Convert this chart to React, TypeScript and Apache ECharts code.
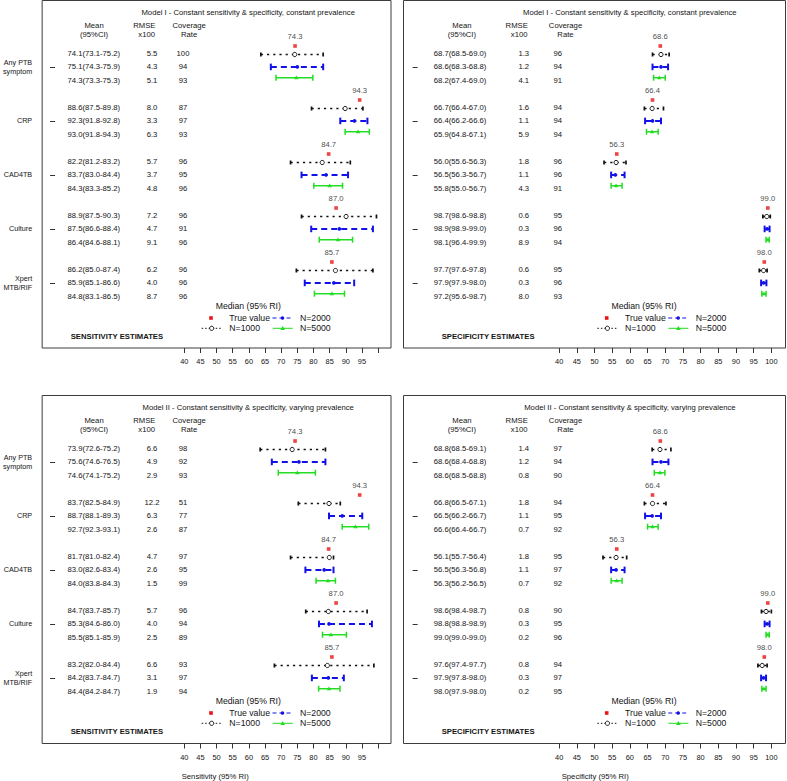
import React, { useEffect, useRef } from "react";
import * as echarts from "echarts";

const FONT = "'Liberation Sans', Arial, Helvetica, sans-serif";
const TEXT = "#141414";
const RED = "#ec1313";
const BLUE = "#1212e8";
const GREEN = "#22dd22";
const BLACK = "#111111";

const categories = ["Any PTB\nsymptom", "CRP", "CAD4TB", "Culture", "Xpert\nMTB/RIF"];
const sampleSizes = ["N=1000", "N=2000", "N=5000"];
const xTicks = [40, 45, 50, 55, 60, 65, 70, 75, 80, 85, 90, 95, 100];
const sensTickLabels = [40, 45, 50, 55, 60, 65, 70, 75, 80, 85, 90, 95];
const specTickLabels = [40, 45, 50, 55, 60, 65, 70, 75, 80, 85, 90, 95, 100];

const trueSensitivity = [74.3, 94.3, 84.7, 87.0, 85.7];
const trueSpecificity = [68.6, 66.4, 56.3, 99.0, 98.0];

// Median and 95% RI: [low, median, high] per test
const m1SensN1000 = [[63.7, 74.2, 83.0], [79.4, 89.8, 95.3], [72.9, 82.7, 91.4], [76.3, 90.1, 99.5], [74.7, 86.8, 98.4]];
const m1SensN2000 = [[66.8, 75.0, 83.0], [88.3, 92.7, 96.7], [76.3, 83.9, 90.7], [79.3, 88.0, 98.4], [77.3, 86.3, 92.6]];
const m1SensN5000 = [[68.4, 74.7, 79.8], [89.8, 93.8, 97.3], [80.1, 85.0, 89.0], [81.8, 87.6, 92.1], [80.3, 85.7, 89.6]];

const m1SpecN1000 = [[66.4, 68.8, 71.1], [64.1, 66.3, 69.5], [52.7, 56.1, 58.9], [97.6, 98.7, 99.7], [96.6, 97.8, 98.8]];
const m1SpecN2000 = [[66.4, 68.8, 70.8], [64.3, 66.4, 68.8], [54.7, 55.9, 58.5], [98.1, 98.8, 99.5], [97.1, 97.8, 98.6]];
const m1SpecN5000 = [[66.7, 68.3, 70.0], [64.7, 66.3, 68.0], [54.7, 56.1, 57.8], [98.5, 99.0, 99.4], [97.3, 97.9, 98.5]];

const m2SensN1000 = [[63.5, 73.4, 83.7], [75.3, 84.8, 88.3], [72.9, 84.9, 86.2], [77.6, 84.6, 96.6], [67.9, 84.3, 98.7]];
const m2SensN2000 = [[67.1, 75.5, 83.7], [84.8, 88.9, 95.1], [77.5, 83.3, 86.2], [81.7, 84.8, 98.1], [79.5, 84.6, 89.4]];
const m2SensN5000 = [[69.1, 75.0, 80.6], [88.9, 93.0, 97.1], [80.8, 84.5, 86.8], [82.8, 85.4, 90.2], [81.6, 84.8, 88.2]];

const m2SpecN1000 = [[66.3, 68.5, 71.6], [64.1, 66.4, 70.2], [52.4, 56.1, 59.1], [97.2, 98.5, 100.0], [96.2, 97.4, 98.8]];
const m2SpecN2000 = [[66.4, 68.8, 70.9], [64.3, 66.3, 68.8], [54.7, 56.1, 58.5], [98.1, 98.8, 99.5], [97.1, 97.8, 98.5]];
const m2SpecN5000 = [[66.9, 68.5, 69.9], [65.0, 66.4, 68.0], [54.7, 56.3, 57.8], [98.5, 99.0, 99.4], [97.3, 97.9, 98.5]];

// Tables: rows N=1000, N=2000, N=5000 per test
const m1SensMean = [
  ["74.1(73.1-75.2)", "75.1(74.3-75.9)", "74.3(73.3-75.3)"],
  ["88.6(87.5-89.8)", "92.3(91.8-92.8)", "93.0(91.8-94.3)"],
  ["82.2(81.2-83.2)", "83.7(83.0-84.4)", "84.3(83.3-85.2)"],
  ["88.9(87.5-90.3)", "87.5(86.6-88.4)", "86.4(84.6-88.1)"],
  ["86.2(85.0-87.4)", "85.9(85.1-86.6)", "84.8(83.1-86.5)"],
];
const m1SensRmse = [[5.5, 4.3, 5.1], [8.0, 3.3, 6.3], [5.7, 3.7, 4.8], [7.2, 4.7, 9.1], [6.2, 4.0, 8.7]];
const m1SensCoverage = [[100, 94, 93], [87, 97, 93], [96, 95, 96], [96, 91, 96], [96, 96, 96]];

const m1SpecMean = [
  ["68.7(68.5-69.0)", "68.6(68.3-68.8)", "68.2(67.4-69.0)"],
  ["66.7(66.4-67.0)", "66.4(66.2-66.6)", "65.9(64.8-67.1)"],
  ["56.0(55.6-56.3)", "56.5(56.3-56.7)", "55.8(55.0-56.7)"],
  ["98.7(98.6-98.8)", "98.9(98.9-99.0)", "98.1(96.4-99.9)"],
  ["97.7(97.6-97.8)", "97.9(97.9-98.0)", "97.2(95.6-98.7)"],
];
const m1SpecRmse = [[1.3, 1.2, 4.1], [1.6, 1.1, 5.9], [1.8, 1.1, 4.3], [0.6, 0.3, 8.9], [0.6, 0.3, 8.0]];
const m1SpecCoverage = [[96, 94, 91], [94, 94, 94], [96, 96, 91], [95, 96, 94], [95, 96, 93]];

const m2SensMean = [
  ["73.9(72.6-75.2)", "75.6(74.6-76.5)", "74.6(74.1-75.2)"],
  ["83.7(82.5-84.9)", "88.7(88.1-89.3)", "92.7(92.3-93.1)"],
  ["81.7(81.0-82.4)", "83.0(82.6-83.4)", "84.0(83.8-84.3)"],
  ["84.7(83.7-85.7)", "85.3(84.6-86.0)", "85.5(85.1-85.9)"],
  ["83.2(82.0-84.4)", "84.2(83.7-84.7)", "84.4(84.2-84.7)"],
];
const m2SensRmse = [[6.6, 4.9, 2.9], [12.2, 6.3, 2.6], [4.7, 2.6, 1.5], [5.7, 4.0, 2.5], [6.6, 3.1, 1.9]];
const m2SensCoverage = [[98, 92, 93], [51, 77, 87], [97, 95, 99], [96, 94, 89], [93, 97, 94]];

const m2SpecMean = [
  ["68.8(68.5-69.1)", "68.6(68.4-68.8)", "68.6(68.5-68.8)"],
  ["66.8(66.5-67.1)", "66.5(66.2-66.7)", "66.6(66.4-66.7)"],
  ["56.1(55.7-56.4)", "56.5(56.3-56.8)", "56.3(56.2-56.5)"],
  ["98.6(98.4-98.7)", "98.8(98.8-98.9)", "99.0(99.0-99.0)"],
  ["97.6(97.4-97.7)", "97.9(97.8-98.0)", "98.0(97.9-98.0)"],
];
const m2SpecRmse = [[1.4, 1.2, 0.8], [1.8, 1.1, 0.7], [1.8, 1.1, 0.7], [0.8, 0.3, 0.2], [0.8, 0.3, 0.2]];
const m2SpecCoverage = [[97, 94, 90], [94, 95, 92], [95, 97, 92], [90, 95, 96], [94, 97, 95]];

const titleModel1 = "Model I - Constant sensitivity & specificity, constant prevalence";
const titleModel2 = "Model II - Constant sensitivity & specificity, varying prevalence";

// layout
const UNIT = 13.5;
const Y_MIN = 0.08;
const X_MIN = -4;
const X_MAX = 104;
const groupCenters = [5, 9, 13, 17, 21];
const barOffsets = [-0.92, 0, 0.8];
const truthOffset = -1.55;
const MEAN_X = 12;
const RMSE_X = 30;
const COV_X = 39.6;

const barStyles = [
  { color: BLACK, dash: [2.2, 4] as number[] | null, width: 1.7, cap: 2, marker: "open" },
  { color: BLUE, dash: [6, 4] as number[] | null, width: 2, cap: 3.3, marker: "dot" },
  { color: GREEN, dash: null as number[] | null, width: 1.5, cap: 3, marker: "tri" },
];

const panels = [
  {
    left: 40.5, top: 0.5, width: 350.5, height: 347.5, title: titleModel1, estimates: "SENSITIVITY ESTIMATES",
    estX: 70.7, legendDx: 0, legendDy: 0, truth: trueSensitivity, bars: [m1SensN1000, m1SensN2000, m1SensN5000],
    mean: m1SensMean, rmse: m1SensRmse, cov: m1SensCoverage, tickLabels: sensTickLabels, showCats: true, axisName: "", axisNameX: 0,
  },
  {
    left: 403.5, top: 0.5, width: 382, height: 347.5, title: titleModel1, estimates: "SPECIFICITY ESTIMATES",
    estX: 441.7, legendDx: 395.7, legendDy: 0, truth: trueSpecificity, bars: [m1SpecN1000, m1SpecN2000, m1SpecN5000],
    mean: m1SpecMean, rmse: m1SpecRmse, cov: m1SpecCoverage, tickLabels: specTickLabels, showCats: false, axisName: "", axisNameX: 0,
  },
  {
    left: 40.5, top: 395.5, width: 350.5, height: 348, title: titleModel2, estimates: "SENSITIVITY ESTIMATES",
    estX: 70.7, legendDx: 0, legendDy: 395, truth: trueSensitivity, bars: [m2SensN1000, m2SensN2000, m2SensN5000],
    mean: m2SensMean, rmse: m2SensRmse, cov: m2SensCoverage, tickLabels: sensTickLabels, showCats: true,
    axisName: "Sensitivity (95% RI)", axisNameX: 181.7,
  },
  {
    left: 403.5, top: 395.5, width: 382, height: 348, title: titleModel2, estimates: "SPECIFICITY ESTIMATES",
    estX: 441.7, legendDx: 395.7, legendDy: 395, truth: trueSpecificity, bars: [m2SpecN1000, m2SpecN2000, m2SpecN5000],
    mean: m2SpecMean, rmse: m2SpecRmse, cov: m2SpecCoverage, tickLabels: specTickLabels, showCats: false,
    axisName: "Specificity (95% RI)", axisNameX: 561.7,
  },
];

function txt(x: number, y: number, text: string, size: number, align: string, weight: string = "normal") {
  return {
    type: "text",
    x,
    y,
    silent: true,
    style: {
      text,
      fill: TEXT,
      fontSize: size,
      fontFamily: FONT,
      fontWeight: weight,
      align,
      textAlign: align,
      verticalAlign: "middle",
      textVerticalAlign: "middle",
    },
  };
}

function markerEl(kind: string, x: number, y: number, color: string, scale = 1) {
  if (kind === "open") {
    return { type: "circle", shape: { cx: x, cy: y, r: 2.1 * scale }, style: { fill: "#fff", stroke: color, lineWidth: 1 } };
  }
  if (kind === "dot") {
    return { type: "circle", shape: { cx: x, cy: y, r: 1.8 * scale }, style: { fill: color, stroke: null } };
  }
  const s = 2.3 * scale;
  return {
    type: "polygon",
    shape: { points: [[x, y - s], [x - s, y + s * 0.7], [x + s, y + s * 0.7]] },
    style: { fill: color, stroke: null },
  };
}

function makeBarRenderer(k: number) {
  const st = barStyles[k];
  return (params: any, api: any) => {
    const y = api.value(3);
    const lo = api.coord([api.value(0), y]);
    const md = api.coord([api.value(1), y]);
    const hi = api.coord([api.value(2), y]);
    const ls: any = { stroke: st.color, lineWidth: st.width, fill: null };
    if (st.dash) ls.lineDash = st.dash;
    const capStyle = { stroke: st.color, lineWidth: st.width, fill: null };
    return {
      type: "group",
      children: [
        { type: "line", shape: { x1: lo[0], y1: lo[1], x2: hi[0], y2: hi[1] }, style: ls },
        { type: "line", shape: { x1: lo[0], y1: lo[1] - st.cap, x2: lo[0], y2: lo[1] + st.cap }, style: capStyle },
        { type: "line", shape: { x1: hi[0], y1: hi[1] - st.cap, x2: hi[0], y2: hi[1] + st.cap }, style: capStyle },
        markerEl(st.marker, md[0], md[1], st.color),
      ],
    };
  };
}

function makeTableRenderer(p: any) {
  return (params: any, api: any) => {
    const y = api.value(1);
    const g = api.value(2);
    const r = api.value(3);
    const pm = api.coord([MEAN_X, y]);
    const pr = api.coord([RMSE_X, y]);
    const pc = api.coord([COV_X, y]);
    return {
      type: "group",
      children: [
        txt(pm[0], pm[1], p.mean[g][r], 7.7, "center"),
        txt(pr[0], pr[1], p.rmse[g][r].toFixed(1), 7.7, "center"),
        txt(pc[0], pc[1], String(p.cov[g][r]), 7.7, "center"),
      ],
    };
  };
}

function legendElements(dx: number, dy: number) {
  const r1 = 318 + dy;
  const r2 = 328.3 + dy;
  return [
    txt(248.3 + dx, 306 + dy, "Median (95% RI)", 8.7, "center"),
    { type: "rect", shape: { x: 211 + dx - 1.8, y: r1 - 1.8, width: 3.6, height: 3.6 }, style: { fill: RED } },
    txt(229.3 + dx, r1, "True value", 8.7, "left"),
    { type: "line", shape: { x1: 272.5 + dx, y1: r1, x2: 292.5 + dx, y2: r1 }, style: { stroke: BLUE, lineWidth: 1, lineDash: [4, 3] } },
    markerEl("dot", 282.5 + dx, r1, BLUE),
    txt(300 + dx, r1, "N=2000", 8.7, "left"),
    { type: "line", shape: { x1: 201.7 + dx, y1: r2, x2: 221.7 + dx, y2: r2 }, style: { stroke: BLACK, lineWidth: 1, lineDash: [1.5, 2] } },
    markerEl("open", 211.7 + dx, r2, BLACK),
    txt(229.3 + dx, r2, "N=1000", 8.7, "left"),
    { type: "line", shape: { x1: 272.7 + dx, y1: r2, x2: 292.7 + dx, y2: r2 }, style: { stroke: GREEN, lineWidth: 1 } },
    markerEl("tri", 282.7 + dx, r2, GREEN),
    txt(300 + dx, r2, "N=5000", 8.7, "left"),
  ];
}

function buildOption() {
  const grid: any[] = [];
  const xAxis: any[] = [];
  const yAxis: any[] = [];
  const series: any[] = [];
  const graphic: any[] = [];

  panels.forEach((p, i) => {
    const dataX = (v: number) => p.left + ((v - X_MIN) / (X_MAX - X_MIN)) * p.width;
    grid.push({
      left: p.left, top: p.top, width: p.width, height: p.height,
      show: true, borderColor: "#3c3c3c", borderWidth: 1, backgroundColor: "rgba(0,0,0,0)", containLabel: false,
    });
    xAxis.push({
      gridIndex: i, type: "value", min: X_MIN, max: X_MAX, position: "bottom",
      axisLine: { show: false },
      axisTick: { show: true, customValues: xTicks, length: 5, inside: false, lineStyle: { color: "#333", width: 1 } },
      axisLabel: { show: true, customValues: p.tickLabels, fontSize: 7.4, color: TEXT, margin: 10, fontFamily: FONT },
      splitLine: { show: false },
    });
    yAxis.push({
      gridIndex: i, type: "value", min: Y_MIN, max: Y_MIN + p.height / UNIT, inverse: true,
      axisLine: { show: false },
      splitLine: { show: false },
      axisTick: { show: true, customValues: groupCenters, length: 5, inside: false, lineStyle: { color: "#333", width: 1 } },
      axisLabel: {
        show: p.showCats, customValues: groupCenters, fontSize: 7.2, color: TEXT, margin: 10, lineHeight: 9.4,
        fontFamily: FONT, align: "right",
        formatter: (v: number) => categories[Math.round((v - 5) / 4)] ?? "",
      },
    });

    p.bars.forEach((set, k) => {
      series.push({
        type: "custom",
        name: sampleSizes[k],
        xAxisIndex: i,
        yAxisIndex: i,
        silent: true,
        clip: false,
        encode: { x: [0, 1, 2], y: 3 },
        data: set.map((b, g) => [b[0], b[1], b[2], groupCenters[g] + barOffsets[k]]),
        renderItem: makeBarRenderer(k),
      });
    });

    series.push({
      type: "scatter",
      name: "True value",
      xAxisIndex: i,
      yAxisIndex: i,
      silent: true,
      symbol: "rect",
      symbolSize: 3.6,
      itemStyle: { color: RED },
      data: p.truth.map((v, g) => [v, groupCenters[g] + truthOffset]),
      label: {
        show: true, position: "top", distance: 3.2, fontSize: 7.7, color: TEXT, fontFamily: FONT,
        formatter: (pp: any) => Number(pp.value[0]).toFixed(1),
      },
    });

    const rows: number[][] = [];
    groupCenters.forEach((c, g) => {
      [0, 1, 2].forEach((r) => rows.push([MEAN_X, c - 1 + r, g, r]));
    });
    series.push({
      type: "custom",
      name: "table" + i,
      xAxisIndex: i,
      yAxisIndex: i,
      silent: true,
      clip: false,
      encode: { x: 0, y: 1 },
      data: rows,
      renderItem: makeTableRenderer(p),
    });

    // titles and headers
    graphic.push(txt(dataX(60), p.top + 11.5, p.title, 7.7, "center"));
    graphic.push(txt(dataX(12.5), p.top + 24.5, "Mean", 7.7, "center"));
    graphic.push(txt(dataX(12.5), p.top + 33.5, "(95%CI)", 7.7, "center"));
    graphic.push(txt(dataX(28), p.top + 24.5, "RMSE", 7.7, "center"));
    graphic.push(txt(dataX(28.7), p.top + 33.5, "x100", 7.7, "center"));
    graphic.push(txt(dataX(41.8), p.top + 24.5, "Coverage", 7.7, "center"));
    graphic.push(txt(dataX(41.8), p.top + 33.5, "Rate", 7.7, "center"));
    legendElements(p.legendDx, p.legendDy).forEach((el) => graphic.push(el));
    graphic.push(txt(p.estX, 336 + p.legendDy, p.estimates, 7.7, "left", "bold"));
    if (p.axisName) graphic.push(txt(p.axisNameX, 776.7, p.axisName, 7.7, "left"));
  });

  return {
    animation: false,
    backgroundColor: "#ffffff",
    textStyle: { fontFamily: FONT },
    grid,
    xAxis,
    yAxis,
    series,
    graphic: { elements: graphic },
  };
}

export default function App() {
  const ref = useRef<HTMLDivElement>(null);
  useEffect(() => {
    if (!ref.current) return;
    const chart = echarts.init(ref.current, undefined, { renderer: "svg" });
    chart.setOption(buildOption() as any);
    return () => chart.dispose();
  }, []);
  return (
    <div
      ref={ref}
      style={{ position: "absolute", left: 0, top: 0, width: 787, height: 781, background: "#fff" }}
    />
  );
}
